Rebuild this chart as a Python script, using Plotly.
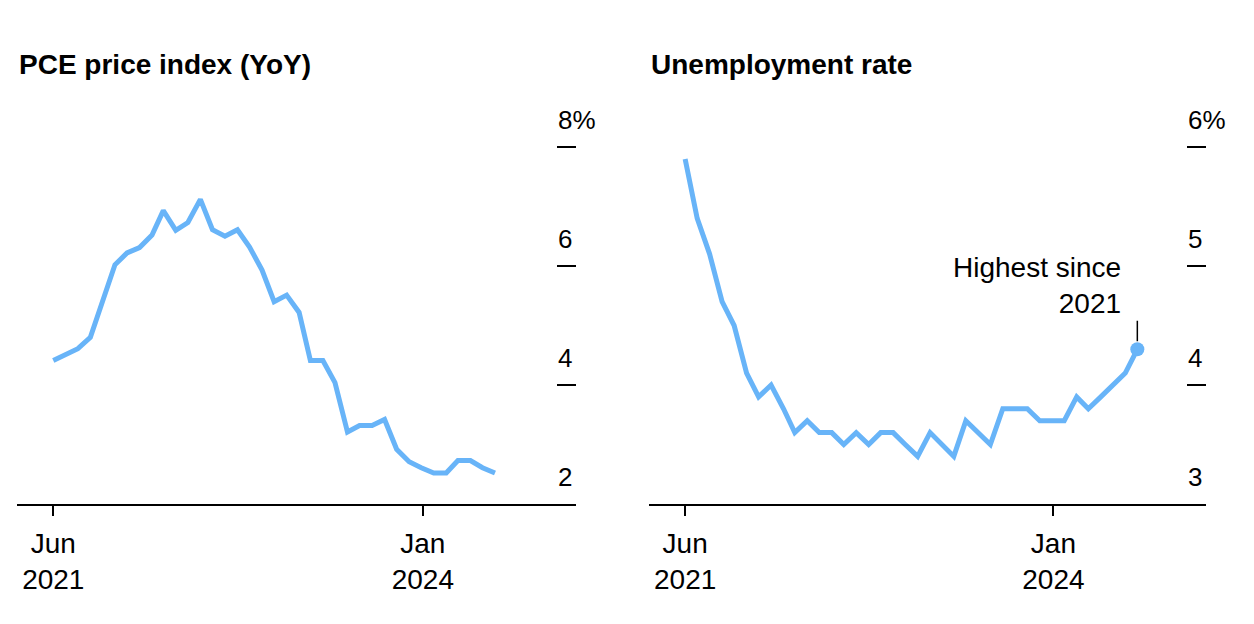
import pandas as pd
import plotly.graph_objects as go
from plotly.subplots import make_subplots

# PCE price index, YoY %, monthly from Jun 2021
pce = [4.41, 4.51, 4.61, 4.80, 5.43, 6.02, 6.22, 6.31, 6.52, 6.93, 6.60, 6.73,
       7.12, 6.61, 6.50, 6.61, 6.32, 5.93, 5.40, 5.51, 5.22, 4.41, 4.41, 4.04,
       3.21, 3.32, 3.32, 3.42, 2.92, 2.71, 2.61, 2.52, 2.52, 2.73, 2.73, 2.61, 2.52]
# unemployment rate %, monthly from Jun 2021
unemp = [5.9, 5.4, 5.1, 4.7, 4.5, 4.1, 3.9, 4.0, 3.8, 3.6, 3.7, 3.6, 3.6,
         3.5, 3.6, 3.5, 3.6, 3.6, 3.5, 3.4, 3.6, 3.5, 3.4, 3.7, 3.6, 3.5,
         3.8, 3.8, 3.8, 3.7, 3.7, 3.7, 3.9, 3.8, 3.9, 4.0, 4.1, 4.3]
start = "2021-06-01"
pce_dates = pd.date_range(start, periods=len(pce), freq="MS")
unemp_dates = pd.date_range(start, periods=len(unemp), freq="MS")

titles = ["PCE price index (YoY)", "Unemployment rate"]
x_ticks = ["2021-06-01", "2023-12-05"]
x_ticktext = ["Jun<br>2021", "Jan<br>2024"]
x_range = ["2021-03-03", "2024-12-19"]
pce_yticks = [8, 6, 4, 2]
unemp_yticks = [6, 5, 4, 3]
note = "Highest since<br>2021"

BLUE = "#68b4f8"
FONT = "Liberation Sans"

fig = make_subplots(rows=1, cols=2)
fig.add_trace(go.Scatter(x=pce_dates, y=pce, mode="lines",
                         line=dict(color=BLUE, width=5)), row=1, col=1)
fig.add_trace(go.Scatter(x=unemp_dates, y=unemp, mode="lines",
                         line=dict(color=BLUE, width=5)), row=1, col=2)
fig.add_trace(go.Scatter(x=[unemp_dates[-1]], y=[unemp[-1]], mode="markers",
                         marker=dict(color=BLUE, size=14)), row=1, col=2)

W, H = 1254, 624
OFF = 8  # page body margin
dom_left = [(17 - OFF) / W, (576 - OFF) / W]
dom_right = [(649 - OFF) / W, (1206 - OFF) / W]
ydom = [(H - 504 + OFF) / H, (H - 100 + OFF) / H]

xax = dict(range=x_range, tickvals=x_ticks, ticktext=x_ticktext, showgrid=False,
           zeroline=False, showline=True, linecolor="black", linewidth=2,
           ticks="outside", ticklen=10, tickwidth=2, tickcolor="black",
           ticklabelstandoff=3,
           tickfont=dict(family=FONT, size=28, color="black"))
yax = dict(side="right", showgrid=False, zeroline=False, showline=False,
           ticks="inside", ticklen=19, tickwidth=2, tickcolor="black",
           showticklabels=False)

fig.update_layout(
    width=W, height=H, showlegend=False,
    margin=dict(l=0, r=0, t=0, b=0),
    plot_bgcolor="white", paper_bgcolor="white",
    font=dict(family=FONT, color="black"),
    xaxis=dict(xax, domain=dom_left),
    xaxis2=dict(xax, domain=dom_right),
    yaxis=dict(yax, domain=ydom, range=[2, 8 + 47 / 59.5], tickvals=pce_yticks),
    yaxis2=dict(yax, domain=ydom, range=[3, 6 + 47 / 119], tickvals=unemp_yticks),
)

# panel titles
for dom, t in zip([dom_left, dom_right], titles):
    fig.add_annotation(text=f"<b>{t}</b>", xref="paper", yref="paper",
                       x=dom[0], y=(H - 82 + OFF) / H, xanchor="left", yanchor="bottom",
                       showarrow=False, font=dict(size=28, family=FONT))

# y tick labels sitting above the tick marks
for yr, dom, vals in [("y", dom_left, pce_yticks), ("y2", dom_right, unemp_yticks)]:
    for i, v in enumerate(vals):
        fig.add_annotation(text=f"{v}%" if i == 0 else str(v), xref="paper", yref=yr,
                           x=dom[1] - 20 / W, y=v, xanchor="left", yanchor="bottom",
                           yshift=10, showarrow=False, font=dict(size=26, family=FONT))

# callout for the latest unemployment reading
fig.add_annotation(xref="x2", yref="y2", x=unemp_dates[-1], y=unemp[-1], text="",
                   showarrow=True, arrowhead=0, arrowwidth=1.5, arrowcolor="black",
                   ax=0, ay=-30, standoff=8)
fig.add_annotation(xref="x2", yref="y2", x=unemp_dates[-1], y=unemp[-1], text=note,
                   showarrow=False, xanchor="right", yanchor="bottom", align="right",
                   xshift=-14, yshift=28, font=dict(size=28, family=FONT))

fig.write_html("out.html")
